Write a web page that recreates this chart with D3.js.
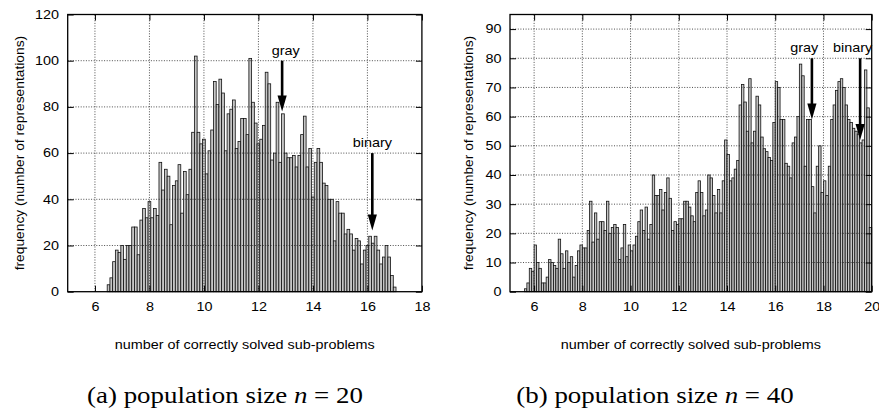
<!DOCTYPE html>
<html>
<head>
<meta charset="utf-8">
<script src="https://cdn.jsdelivr.net/npm/d3@7"></script>
<style>
  html, body { margin: 0; padding: 0; background: #fff; }
  svg { display: block; }
</style>
</head>
<body>
<svg id="chart" width="879" height="412"></svg>
<script>
// ---------------- DATA ----------------
// (a) population size n = 20 : bin centres and counts
const binsA = [6.5,6.6,6.7,6.8,6.9,
  7.0,7.1,7.2,7.3,7.4,7.5,7.6,7.7,7.8,7.9,
  8.0,8.1,8.2,8.3,8.4,8.5,8.6,8.7,8.8,8.9,
  9.0,9.1,9.2,9.3,9.4,9.5,9.6,9.7,9.8,9.9,
  10.0,10.1,10.2,10.3,10.4,10.5,10.6,10.7,10.8,10.9,
  11.0,11.1,11.2,11.3,11.4,11.5,11.6,11.7,11.8,11.9,
  12.0,12.1,12.2,12.3,12.4,12.5,12.6,12.7,12.8,12.9,
  13.0,13.1,13.2,13.3,13.4,13.5,13.6,13.7,13.8,13.9,
  14.0,14.1,14.2,14.3,14.4,14.5,14.6,14.7,14.8,14.9,
  15.0,15.1,15.2,15.3,15.4,15.5,15.6,15.7,15.8,15.9,
  16.0,16.1,16.2,16.3,16.4,16.5,16.6,16.7,16.8,16.9,
  17.0];
const countsA = [3,6,13,18,17,20,14,20,20,28,28,16,31,36,32,39,32,36,33,56,
  44,53,50,29,46,48,55,34,52,42,53,69,102,69,64,66,
  51,61,70,91,81,92,86,61,77,79,83,62,65,75,75,68,101,82,73,64,66,72,95,90,
  57,60,82,56,77,60,58,58,59,54,59,68,76,54,62,
  41,56,62,56,47,46,40,40,22,39,34,34,25,27,25,18,23,22,12,18,20,24,21,24,18,
  12,15,20,15,7,2];

// (b) population size n = 40 : bin centres and counts
const binsB = [5.65,5.75,5.85,5.95,
  6.05,6.15,6.25,6.35,6.45,6.55,6.65,6.75,6.85,6.95,
  7.05,7.15,7.25,7.35,7.45,7.55,7.65,7.75,7.85,7.95,
  8.05,8.15,8.25,8.35,8.45,8.55,8.65,8.75,8.85,8.95,
  9.05,9.15,9.25,9.35,9.45,9.55,9.65,9.75,9.85,9.95,
  10.05,10.15,10.25,10.35,10.45,10.55,10.65,10.75,10.85,10.95,
  11.05,11.15,11.25,11.35,11.45,11.55,11.65,11.75,11.85,11.95,
  12.05,12.15,12.25,12.35,12.45,12.55,12.65,12.75,12.85,12.95,
  13.05,13.15,13.25,13.35,13.45,13.55,13.65,13.75,13.85,13.95,
  14.05,14.15,14.25,14.35,14.45,14.55,14.65,14.75,14.85,14.95,
  15.05,15.15,15.25,15.35,15.45,15.55,15.65,15.75,15.85,15.95,
  16.05,16.15,16.25,16.35,16.45,16.55,16.65,16.75,16.85,16.95,
  17.05,17.15,17.25,17.35,17.45,17.55,17.65,17.75,17.85,17.95,
  18.05,18.15,18.25,18.35,18.45,18.55,18.65,18.75,18.85,18.95,
  19.05,19.15,19.25,19.35,19.45,19.55,19.65,19.75,19.85,19.95];
const countsB = [1,3,8,7,16,10,8,3,3,5,11,10,9,8,18,13,8,14,10,12,
  5,9,14,16,15,15,21,31,17,27,18,24,24,21,31,20,22,23,22,11,15,23,
  12,16,14,16,19,24,28,21,29,18,23,40,33,33,35,28,34,39,32,21,24,23,25,25,
  31,31,29,26,24,34,38,34,26,28,40,39,33,27,35,27,38,52,47,38,39,42,45,64,
  71,65,55,73,
  51,55,67,64,53,49,48,46,45,58,72,70,59,59,44,43,39,51,53,60,
  78,74,43,59,59,36,27,43,50,34,38,33,43,59,64,69,72,73,70,64,
  59,58,56,55,54,51,52,76,63,22];

// tick values
const xTicksA = [6, 8, 10, 12, 14, 16, 18];
const yTicksA = [0, 20, 40, 60, 80, 100, 120];
const xTicksB = [6, 8, 10, 12, 14, 16, 18, 20];
const yTicksB = [0, 10, 20, 30, 40, 50, 60, 70, 80, 90];

// annotations: label, arrow x, arrow start value, arrow tip value, label x, label baseline value
const notesA = [
  ["gray",   12.87, 100, 78, 13.0, 102.5],
  ["binary", 16.18, 60, 26.5, 16.18, 62.8]
];
const notesB = [
  ["gray",   17.52, 80, 59, 17.2, 82.2],
  ["binary", 19.52, 80, 52, 19.21, 82.2]
];

const xTitle = "number of correctly solved sub-problems";
const yTitle = "frequency (number of representations)";
const captionA = ["(a) population size ", "n", " = 20"];
const captionB = ["(b) population size ", "n", " = 40"];

// ---------------- DRAWING ----------------
const svg = d3.select("#chart");
const SANS = "'Liberation Sans', Arial, Helvetica, sans-serif";
const SERIF = "'Liberation Serif', 'Times New Roman', serif";
const SX = 1.2; // horizontal stretch of the sans text

function panel(cfg) {
  const g = svg.append("g");
  const x = d3.scaleLinear().domain(cfg.xDomain).range([cfg.left, cfg.right]);
  const y = d3.scaleLinear().domain(cfg.yDomain).range([cfg.bottom, cfg.top]);
  const half = 0.05;

  // bars
  g.append("g").selectAll("rect")
    .data(d3.zip(cfg.bins, cfg.counts))
    .join("rect")
    .attr("x", d => x(d[0] - half))
    .attr("width", d => x(d[0] + half) - x(d[0] - half))
    .attr("y", d => y(d[1]))
    .attr("height", d => y(0) - y(d[1]))
    .attr("fill", "#c6c6c6")
    .attr("stroke", "#111")
    .attr("stroke-width", 0.8);

  // grid (on top of bars)
  const grid = g.append("g").attr("stroke", "#222").attr("stroke-width", 0.8)
    .attr("stroke-dasharray", "1,1.6").attr("fill", "none");
  grid.selectAll("line.vx")
    .data(cfg.xTicks.filter(v => v > cfg.xDomain[0] && v < cfg.xDomain[1]))
    .join("line")
    .attr("x1", d => x(d)).attr("x2", d => x(d))
    .attr("y1", y.range()[0]).attr("y2", y.range()[1]);
  grid.selectAll("line.hy")
    .data(cfg.yTicks.filter(v => v > cfg.yDomain[0] && v < cfg.yDomain[1]))
    .join("line")
    .attr("x1", x.range()[0]).attr("x2", x.range()[1])
    .attr("y1", d => y(d)).attr("y2", d => y(d));

  // axes with inward ticks on all four sides
  const styleAxis = sel => {
    sel.select(".domain").remove();
    sel.selectAll(".tick line").attr("stroke", "#000").attr("stroke-width", 1);
  };
  const bottom = g.append("g").attr("transform", `translate(0,${cfg.bottom})`)
    .call(d3.axisBottom(x).tickValues(cfg.xTicks).tickSize(-6).tickPadding(10.3))
    .call(styleAxis);
  bottom.selectAll(".tick text")
    .attr("font-family", SANS).attr("font-size", 12).attr("fill", "#000")
    .attr("transform", `scale(${SX},1)`);
  const left = g.append("g").attr("transform", `translate(${cfg.left},0)`)
    .call(d3.axisLeft(y).tickValues(cfg.yTicks).tickSize(-6).tickPadding(0))
    .call(styleAxis);
  left.selectAll(".tick text")
    .attr("font-family", SANS).attr("font-size", 12).attr("fill", "#000")
    .attr("x", 0)
    .attr("transform", `translate(-8.6,0) scale(${SX},1)`);
  g.append("g").attr("transform", `translate(0,${cfg.top})`)
    .call(d3.axisTop(x).tickValues(cfg.xTicks).tickSize(-6).tickFormat(""))
    .call(styleAxis);
  g.append("g").attr("transform", `translate(${cfg.right},0)`)
    .call(d3.axisRight(y).tickValues(cfg.yTicks).tickSize(-6).tickFormat(""))
    .call(styleAxis);

  // frame
  g.append("rect")
    .attr("x", cfg.left).attr("y", cfg.top)
    .attr("width", cfg.right - cfg.left).attr("height", cfg.bottom - cfg.top)
    .attr("fill", "none").attr("stroke", "#000").attr("stroke-width", 1.3);

  // arrows and labels
  const headL = 16, headW = 4.6;
  cfg.notes.forEach(n => {
    const [label, ax, from, to, lx, ly] = n;
    const px = x(ax), y0 = y(from), y1 = y(to);
    g.append("line").attr("x1", px).attr("x2", px)
      .attr("y1", y0).attr("y2", y1 - headL + 2)
      .attr("stroke", "#000").attr("stroke-width", 2.6);
    g.append("path")
      .attr("d", `M${px - headW},${y1 - headL} L${px + headW},${y1 - headL} L${px},${y1} Z`)
      .attr("fill", "#000");
    g.append("text")
      .attr("transform", `translate(${x(lx)},${y(ly)}) scale(${SX},1)`)
      .attr("text-anchor", "middle")
      .attr("font-family", SANS).attr("font-size", 12).attr("fill", "#000")
      .text(label);
  });

  // axis titles
  g.append("text")
    .attr("transform", `translate(${(cfg.left + cfg.right) / 2},349) scale(${SX},1)`)
    .attr("text-anchor", "middle")
    .attr("font-family", SANS).attr("font-size", 12).attr("fill", "#000")
    .text(xTitle);
  g.append("text")
    .attr("transform", `translate(${cfg.yTitleX},${(cfg.top + cfg.bottom) / 2}) rotate(-90) scale(1.15,1)`)
    .attr("text-anchor", "middle").attr("dy", "0.35em")
    .attr("font-family", SANS).attr("font-size", 12).attr("fill", "#000")
    .text(yTitle);

  // caption
  const cap = svg.append("text")
    .attr("transform", `translate(${cfg.captionX},403) scale(1.17,1)`)
    .attr("text-anchor", "middle")
    .attr("font-family", SERIF).attr("font-size", 23).attr("fill", "#000");
  cap.append("tspan").text(cfg.caption[0]);
  cap.append("tspan").attr("font-style", "italic").text(cfg.caption[1]);
  cap.append("tspan").text(cfg.caption[2]);
}

panel({
  bins: binsA, counts: countsA, xTicks: xTicksA, yTicks: yTicksA, notes: notesA,
  xDomain: [5, 18], yDomain: [0, 120],
  left: 67.7, right: 421.9, top: 14.5, bottom: 291.7,
  yTitleX: 20, captionX: 225, caption: captionA
});
panel({
  bins: binsB, counts: countsB, xTicks: xTicksB, yTicks: yTicksB, notes: notesB,
  xDomain: [5, 20], yDomain: [0, 95],
  left: 510, right: 871.7, top: 14.5, bottom: 291.7,
  yTitleX: 469, captionX: 655, caption: captionB
});
</script>
</body>
</html>
